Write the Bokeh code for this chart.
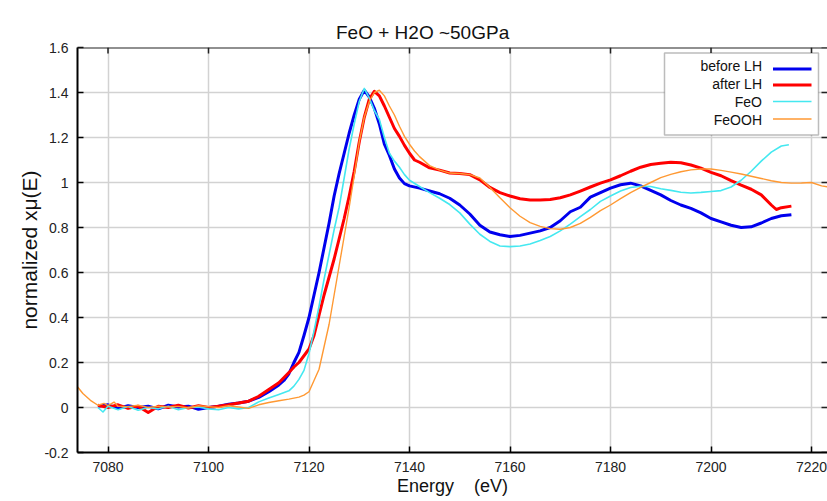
from bokeh.plotting import figure
from bokeh.models import (FixedTicker, Range1d, Label, BoxAnnotation, Span, LinearAxis,
                          CustomJSTickFormatter)
from bokeh.embed import file_html
from bokeh.resources import INLINE

# ---------------- data ----------------
E_before = [7078, 7080, 7082, 7084, 7086, 7088, 7090, 7092, 7094, 7096, 7098, 7100, 7102, 7104, 7106, 7108,
            7110, 7112, 7114, 7115, 7116, 7117, 7118, 7119, 7120, 7121, 7122, 7123, 7124, 7125, 7126, 7127,
            7128, 7129, 7130, 7131, 7132, 7133, 7134, 7135, 7136, 7137, 7138, 7139, 7140, 7142, 7144, 7146,
            7148, 7150, 7152, 7154, 7156, 7158, 7160, 7162, 7164, 7166, 7168, 7170, 7172, 7174, 7176, 7178,
            7180, 7182, 7184, 7186, 7188, 7190, 7192, 7194, 7196, 7198, 7200, 7202, 7204, 7206, 7208, 7210,
            7212, 7214, 7216]
mu_before = [0.005, 0.012, -0.004, 0.008, 0.0, 0.006, -0.006, 0.01, 0.002, 0.006, -0.008, 0.0, 0.006, 0.014, 0.02, 0.028,
             0.045, 0.07, 0.1, 0.12, 0.15, 0.2, 0.245, 0.32, 0.4, 0.5, 0.6, 0.71, 0.82, 0.94, 1.04, 1.13,
             1.22, 1.3, 1.37, 1.41, 1.38, 1.33, 1.26, 1.17, 1.12, 1.06, 1.02, 0.995, 0.985, 0.975, 0.962, 0.95,
             0.93, 0.9, 0.86, 0.81, 0.78, 0.768, 0.76, 0.765, 0.775, 0.785, 0.8, 0.83, 0.87, 0.89, 0.935, 0.955,
             0.975, 0.99, 0.997, 0.985, 0.965, 0.945, 0.92, 0.9, 0.885, 0.865, 0.84, 0.825, 0.81, 0.8, 0.803, 0.82,
             0.84, 0.852, 0.857]

E_after = [7078, 7080, 7082, 7084, 7086, 7088, 7090, 7092, 7094, 7096, 7098, 7100, 7102, 7104, 7106, 7108,
           7110, 7112, 7114, 7116, 7117, 7118, 7119, 7120, 7121, 7122, 7123, 7124, 7125, 7126, 7127, 7128,
           7129, 7130, 7131, 7132, 7133, 7134, 7135, 7136, 7137, 7138, 7139, 7140, 7141, 7142, 7144, 7146,
           7148, 7150, 7152, 7154, 7156, 7158, 7160, 7162, 7164, 7166, 7168, 7170, 7172, 7174, 7176, 7178,
           7180, 7182, 7184, 7186, 7188, 7190, 7192, 7194, 7196, 7198, 7200, 7202, 7204, 7206, 7208, 7210,
           7212, 7213, 7214, 7216]
mu_after = [0.01, 0.0, 0.012, -0.004, 0.006, -0.022, 0.006, 0.0, 0.01, -0.002, 0.008, 0.0, 0.006, 0.012, 0.02, 0.028,
            0.05, 0.08, 0.11, 0.155, 0.18, 0.2, 0.23, 0.26, 0.32, 0.41, 0.5, 0.58, 0.66, 0.75, 0.84, 0.94,
            1.05, 1.18, 1.29, 1.37, 1.405, 1.385, 1.34, 1.29, 1.24, 1.205, 1.165, 1.13, 1.1, 1.09, 1.065, 1.055,
            1.042, 1.04, 1.035, 1.012, 0.978, 0.955, 0.94, 0.928, 0.922, 0.922, 0.924, 0.932, 0.945, 0.962, 0.98, 0.997,
            1.012, 1.03, 1.05, 1.068, 1.08, 1.086, 1.09, 1.088, 1.078, 1.064, 1.045, 1.03, 1.008, 0.988, 0.97, 0.945,
            0.9, 0.88, 0.888, 0.895]

E_feo = [7078, 7079, 7080, 7082, 7084, 7086, 7088, 7090, 7092, 7094, 7096, 7098, 7100, 7102, 7104, 7106,
         7108, 7110, 7112, 7114, 7116, 7117, 7118, 7119, 7120, 7121, 7122, 7123, 7124, 7125, 7126, 7127,
         7128, 7129, 7130, 7131, 7132, 7133, 7134, 7135, 7136, 7137, 7138, 7139, 7140, 7142, 7144, 7146,
         7148, 7150, 7152, 7154, 7156, 7158, 7160, 7162, 7164, 7166, 7168, 7170, 7172, 7174, 7176, 7178,
         7180, 7182, 7184, 7186, 7188, 7190, 7192, 7194, 7196, 7198, 7200, 7202, 7204, 7206, 7208, 7210,
         7212, 7214, 7215.5]
mu_feo = [0.0, -0.02, 0.006, -0.01, 0.004, -0.012, 0.0, -0.006, 0.006, -0.01, 0.0, 0.002, -0.006, -0.01, 0.0, -0.006,
          0.0, 0.025, 0.042, 0.058, 0.074, 0.095, 0.125, 0.165, 0.24, 0.34, 0.45, 0.57, 0.68, 0.79, 0.89, 1.02,
          1.15, 1.26, 1.36, 1.418, 1.375, 1.32, 1.28, 1.2, 1.13, 1.095, 1.068, 1.035, 1.01, 0.982, 0.955, 0.93,
          0.902, 0.865, 0.815, 0.77, 0.738, 0.718, 0.715, 0.718, 0.727, 0.742, 0.76, 0.785, 0.815, 0.848, 0.88, 0.916,
          0.94, 0.962, 0.978, 0.983, 0.982, 0.972, 0.965, 0.957, 0.953, 0.956, 0.96, 0.964, 0.98, 1.01, 1.05, 1.095,
          1.135, 1.162, 1.168]

E_feooh = [7072, 7074, 7075, 7076.5, 7078, 7079.2, 7080, 7081.2, 7082, 7084, 7086, 7088, 7090, 7092, 7094, 7096,
           7098, 7100, 7102, 7104, 7106, 7108, 7110, 7112, 7114, 7116, 7118, 7119, 7120, 7121, 7122, 7123,
           7124, 7125, 7126, 7127, 7128, 7129, 7130, 7131, 7132, 7133, 7134, 7135, 7136, 7137, 7138, 7139,
           7140, 7141, 7142, 7144, 7146, 7148, 7150, 7152, 7154, 7156, 7158, 7160, 7162, 7164, 7166, 7168,
           7170, 7172, 7174, 7176, 7178, 7180, 7182, 7184, 7186, 7188, 7190, 7192, 7194, 7196, 7198, 7200,
           7202, 7204, 7206, 7208, 7210, 7212, 7214, 7216, 7218, 7220, 7222, 7224, 7226]
mu_feooh = [0.1, 0.09, 0.062, 0.032, 0.01, 0.018, 0.008, 0.024, 0.006, 0.004, 0.01, 0.0, 0.006, 0.002, 0.005, -0.002,
            0.008, 0.004, 0.0, 0.008, 0.002, -0.004, 0.012, 0.022, 0.03, 0.037, 0.046, 0.055, 0.07, 0.12, 0.17, 0.27,
            0.37, 0.5, 0.63, 0.76, 0.89, 1.03, 1.18, 1.29, 1.36, 1.4, 1.41, 1.385, 1.34, 1.3, 1.25, 1.205,
            1.17, 1.14, 1.115, 1.075, 1.055, 1.042, 1.04, 1.035, 1.02, 0.978, 0.932, 0.888, 0.85, 0.822, 0.805, 0.795,
            0.792, 0.8, 0.818, 0.845, 0.875, 0.9, 0.928, 0.955, 0.978, 1.0, 1.022, 1.036, 1.048, 1.056, 1.06, 1.06,
            1.054, 1.046, 1.038, 1.028, 1.018, 1.008, 1.0, 0.997, 0.998, 1.0, 0.985, 0.978, 0.972]

series_labels = ["before LH", "after LH", "FeO", "FeOOH"]
series_colors = ["#0000ee", "#ff0000", "#44e8f0", "#ff9933"]
series_widths = [3, 3, 1.6, 1.4]

x_ticks = [7080, 7100, 7120, 7140, 7160, 7180, 7200, 7220]
y_ticks = [-0.2, 0, 0.2, 0.4, 0.6, 0.8, 1.0, 1.2, 1.4, 1.6]

title_text = "FeO + H2O ~50GPa"
x_label = "Energy\u00a0\u00a0\u00a0\u00a0(eV)"
y_label = "normalized x\u03bc(E)"

# ---------------- layout ----------------
W, H = 827, 501
BL, BR, BT, BB = 77, 0, 47, 49
FW, FH = W - BL - BR, H - BT - BB
XPX = 5.025                      # pixels per eV
X0 = 7080 - 30.5 / XPX
X1 = X0 + FW / XPX
Y0, Y1 = -0.2, 1.6
YPX = FH / (Y1 - Y0)

FONT = "Liberation Sans"

def dx(px):
    """pixel offset from the frame's left edge -> data x"""
    return X0 + px / XPX

def dy(py):
    """pixel offset below the frame's top edge -> data y"""
    return Y1 - py / YPX

p = figure(width=W, height=H, output_backend="svg", toolbar_location=None,
           x_range=Range1d(X0, X1), y_range=Range1d(Y0, Y1),
           min_border_left=BL, min_border_right=BR, min_border_top=BT, min_border_bottom=BB,
           title=title_text)
p.outline_line_color = None
p.background_fill_color = "white"
p.border_fill_color = "white"

p.title.align = "left"
p.title.offset = 421.5 - BL - 86
p.title.text_font = FONT
p.title.text_font_size = "19px"
p.title.text_font_style = "normal"
p.title.text_color = "#111111"

# empty spacer axis between the title and the frame (no ticks, no labels)
spacer = LinearAxis(ticker=FixedTicker(ticks=[]))
spacer.axis_line_color = None
spacer.major_tick_line_color = None
spacer.minor_tick_line_color = None
spacer.major_tick_in = 0
spacer.major_tick_out = 10
spacer.major_label_standoff = 0
p.add_layout(spacer, "above")

xb = p.below[0]
yl = p.left[0]
xb.ticker = FixedTicker(ticks=x_ticks)
yl.ticker = FixedTicker(ticks=y_ticks)
yl.formatter = CustomJSTickFormatter(code="""
    if (Math.abs(tick) < 1e-9) return '0';
    return (+tick.toFixed(1)).toString();
""")
p.xgrid.ticker = FixedTicker(ticks=x_ticks)
p.ygrid.ticker = FixedTicker(ticks=y_ticks)
p.xgrid.grid_line_color = "#d2d2d2"
p.ygrid.grid_line_color = "#d2d2d2"
p.xgrid.grid_line_width = 1.5
p.ygrid.grid_line_width = 1.5

for ax in (xb, yl):
    ax.axis_line_color = "black"
    ax.axis_line_width = 2
    ax.major_tick_in = 6
    ax.major_tick_out = 0
    ax.minor_tick_line_color = None
    ax.major_tick_line_color = "black"
    ax.major_tick_line_width = 1.5
    ax.major_label_text_font = FONT
    ax.major_label_text_font_size = "14px"
    ax.major_label_text_color = "#222222"
    ax.axis_label_text_font = FONT
    ax.axis_label_text_font_style = "normal"
    ax.axis_label_text_color = "#111111"

xb.axis_label = x_label
xb.axis_label_text_font_size = "18px"
xb.major_label_standoff = 9
xb.axis_label_standoff = 1
yl.axis_label = y_label
yl.axis_label_text_font_size = "21px"
yl.major_label_standoff = 9
yl.axis_label_standoff = 0

# top border with inward ticks, and inward ticks on the right edge
p.add_layout(Span(location=Y1, dimension="width", line_color="#222222", line_width=2))
tick_h = 6 / YPX
tick_w = 6 / XPX
p.segment(x0=x_ticks, y0=[Y1] * len(x_ticks), x1=x_ticks, y1=[Y1 - tick_h] * len(x_ticks),
          line_color="#222222", line_width=1.5)
p.segment(x0=[X1] * len(y_ticks), y0=y_ticks, x1=[X1 - tick_w] * len(y_ticks), y1=y_ticks,
          line_color="#222222", line_width=1.5)

# ---------------- curves ----------------
data = [(E_before, mu_before), (E_after, mu_after), (E_feo, mu_feo), (E_feooh, mu_feooh)]
for (ex, mu), col, lw in zip(data, series_colors, series_widths):
    p.line(ex, mu, line_color=col, line_width=lw, line_join="round")

# ---------------- legend (gnuplot style: text then sample) ----------------
box = BoxAnnotation(left=dx(587), right=dx(741), top=dy(5.5), bottom=dy(87.5),
                    fill_color="white", fill_alpha=1.0, line_color="#222222", line_width=1.5,
                    level="annotation")
p.add_layout(box)
text_rows = [18.5, 36.5, 54.5, 72.5]
line_rows = [21.5, 37.5, 54, 71.5]
for lab, col, lw, ty, ly in zip(series_labels, series_colors, series_widths, text_rows, line_rows):
    p.add_layout(Label(x=dx(684.5), y=dy(ty), text=lab, text_align="right", text_baseline="middle",
                       text_font=FONT, text_font_size="14px", text_color="#111111"))
    r = p.segment(x0=[dx(695.5)], y0=[dy(ly)], x1=[dx(734)], y1=[dy(ly)],
                  line_color=col, line_width=lw)
    r.level = "overlay"

open("out.html", "w").write(file_html(p, INLINE))
